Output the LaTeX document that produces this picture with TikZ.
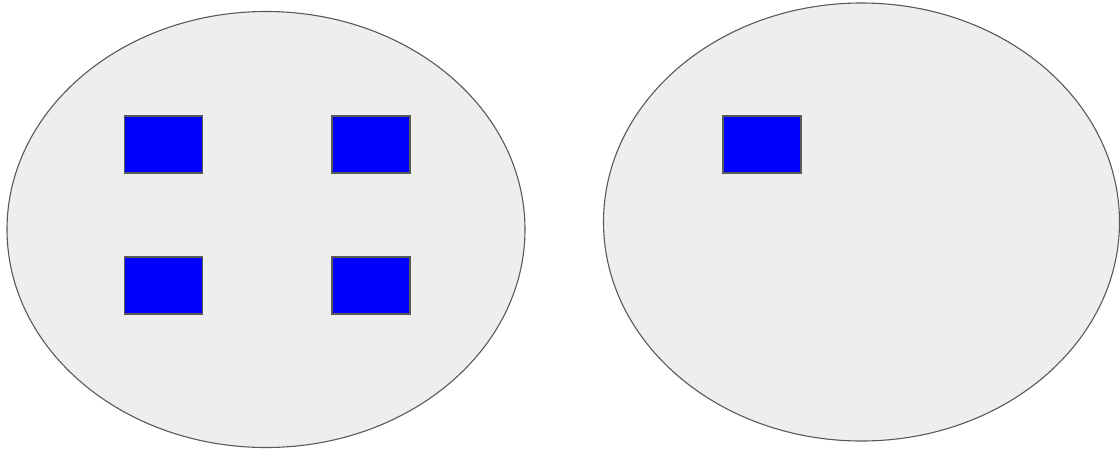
\documentclass[tikz,border=0pt]{standalone}
\usetikzlibrary{shapes.geometric}
\definecolor{setfill}{HTML}{EEEEEE}
\definecolor{setline}{HTML}{595959}
\tikzset{
  setzone/.style={draw=setline, fill=setfill, line width=1.1pt, ellipse, inner sep=0pt},
  elem/.style={draw=setline, fill=blue, line width=1.3pt, rectangle, inner sep=0pt, minimum width=78pt, minimum height=57pt}
}
\begin{document}
\begin{tikzpicture}[x=1pt,y=-1pt]
\useasboundingbox (0,0) rectangle (1120,448);
\node[setzone, minimum width=518pt, minimum height=436pt] (left) at (266,229.5) {};
\node[setzone, minimum width=516pt, minimum height=438pt] (right) at (861.5,222) {};
\node[elem] (a) at (163.5,144.5) {};
\node[elem] (b) at (371,144.5) {};
\node[elem] (c) at (163.5,285.5) {};
\node[elem] (d) at (371,285.5) {};
\node[elem] (e) at (762,144.5) {};
\end{tikzpicture}
\end{document}
